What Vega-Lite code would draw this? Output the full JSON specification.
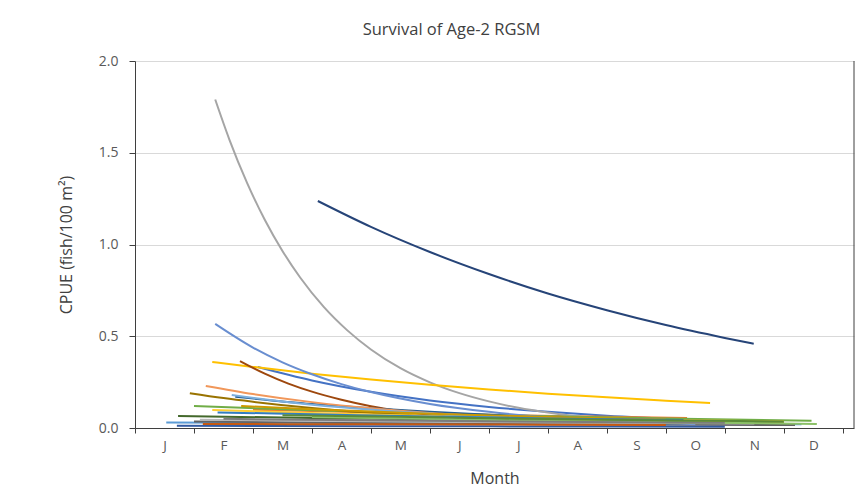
{
  "$schema": "https://vega.github.io/schema/vega-lite/v6.json",
  "width": 719,
  "height": 367,
  "autosize": {"type": "none"},
  "padding": {"left": 135, "top": 61, "right": 7, "bottom": 67},
  "background": "white",
  "config": {"view": {"stroke": null}, "font": "Open Sans"},
  "title": {
    "text": "Survival of Age-2 RGSM",
    "fontSize": 16.5,
    "fontWeight": "normal",
    "color": "#404040",
    "anchor": "middle",
    "dx": -43,
    "offset": 16
  },
  "data": {
    "values": [
      {"s": "S1", "m": 2.08, "v": 0.332}, {"s": "S1", "m": 3, "v": 0.259}, {"s": "S1", "m": 4, "v": 0.197}, {"s": "S1", "m": 5, "v": 0.150}, {"s": "S1", "m": 6, "v": 0.115}, {"s": "S1", "m": 7, "v": 0.088}, {"s": "S1", "m": 8, "v": 0.067}, {"s": "S1", "m": 9.4, "v": 0.046},
      {"s": "S2", "m": 2, "v": 0.10}, {"s": "S2", "m": 4, "v": 0.085}, {"s": "S2", "m": 6, "v": 0.072}, {"s": "S2", "m": 8, "v": 0.061}, {"s": "S2", "m": 9.36, "v": 0.055},
      {"s": "S3", "m": 1.36, "v": 1.79}, {"s": "S3", "m": 1.6, "v": 1.572}, {"s": "S3", "m": 1.9, "v": 1.336}, {"s": "S3", "m": 2.2, "v": 1.135}, {"s": "S3", "m": 2.5, "v": 0.965}, {"s": "S3", "m": 2.8, "v": 0.820}, {"s": "S3", "m": 3.2, "v": 0.660}, {"s": "S3", "m": 3.6, "v": 0.532}, {"s": "S3", "m": 4.0, "v": 0.428}, {"s": "S3", "m": 4.5, "v": 0.326}, {"s": "S3", "m": 5.0, "v": 0.249}, {"s": "S3", "m": 5.5, "v": 0.190}, {"s": "S3", "m": 6.0, "v": 0.145}, {"s": "S3", "m": 6.5, "v": 0.110}, {"s": "S3", "m": 7.0, "v": 0.084}, {"s": "S3", "m": 7.5, "v": 0.064}, {"s": "S3", "m": 8.0, "v": 0.049}, {"s": "S3", "m": 8.5, "v": 0.037},
      {"s": "S4", "m": 1.31, "v": 0.36}, {"s": "S4", "m": 2, "v": 0.333}, {"s": "S4", "m": 3, "v": 0.296}, {"s": "S4", "m": 4, "v": 0.264}, {"s": "S4", "m": 5, "v": 0.236}, {"s": "S4", "m": 6, "v": 0.210}, {"s": "S4", "m": 7, "v": 0.187}, {"s": "S4", "m": 8, "v": 0.167}, {"s": "S4", "m": 9, "v": 0.149}, {"s": "S4", "m": 9.75, "v": 0.136},
      {"s": "S5", "m": 0.53, "v": 0.03}, {"s": "S5", "m": 3, "v": 0.028}, {"s": "S5", "m": 6, "v": 0.025}, {"s": "S5", "m": 9, "v": 0.022}, {"s": "S5", "m": 11.3, "v": 0.02},
      {"s": "S6", "m": 1.0, "v": 0.12}, {"s": "S6", "m": 3, "v": 0.097}, {"s": "S6", "m": 5, "v": 0.079}, {"s": "S6", "m": 7, "v": 0.064}, {"s": "S6", "m": 9, "v": 0.052}, {"s": "S6", "m": 11.47, "v": 0.04},
      {"s": "S7", "m": 3.1, "v": 1.237}, {"s": "S7", "m": 4, "v": 1.096}, {"s": "S7", "m": 5, "v": 0.959}, {"s": "S7", "m": 6, "v": 0.839}, {"s": "S7", "m": 7, "v": 0.733}, {"s": "S7", "m": 8, "v": 0.642}, {"s": "S7", "m": 9, "v": 0.561}, {"s": "S7", "m": 10, "v": 0.491}, {"s": "S7", "m": 10.49, "v": 0.459},
      {"s": "S8", "m": 1.78, "v": 0.365}, {"s": "S8", "m": 2.2, "v": 0.296}, {"s": "S8", "m": 2.6, "v": 0.242}, {"s": "S8", "m": 3, "v": 0.198}, {"s": "S8", "m": 3.5, "v": 0.154}, {"s": "S8", "m": 4, "v": 0.119}, {"s": "S8", "m": 4.5, "v": 0.093}, {"s": "S8", "m": 5, "v": 0.072}, {"s": "S8", "m": 5.5, "v": 0.056},
      {"s": "S9", "m": 1.0, "v": 0.035}, {"s": "S9", "m": 4, "v": 0.027}, {"s": "S9", "m": 7, "v": 0.021}, {"s": "S9", "m": 11.19, "v": 0.016},
      {"s": "S10", "m": 0.93, "v": 0.19}, {"s": "S10", "m": 1.5, "v": 0.163}, {"s": "S10", "m": 2, "v": 0.143}, {"s": "S10", "m": 3, "v": 0.109}, {"s": "S10", "m": 4, "v": 0.083}, {"s": "S10", "m": 5, "v": 0.064}, {"s": "S10", "m": 6, "v": 0.049}, {"s": "S10", "m": 7, "v": 0.037}, {"s": "S10", "m": 8, "v": 0.029},
      {"s": "S11", "m": 1.7, "v": 0.17}, {"s": "S11", "m": 3, "v": 0.131}, {"s": "S11", "m": 4, "v": 0.107}, {"s": "S11", "m": 5, "v": 0.088}, {"s": "S11", "m": 6, "v": 0.072}, {"s": "S11", "m": 7, "v": 0.059}, {"s": "S11", "m": 8, "v": 0.048}, {"s": "S11", "m": 9.5, "v": 0.036},
      {"s": "S12", "m": 0.73, "v": 0.065}, {"s": "S12", "m": 3, "v": 0.055}, {"s": "S12", "m": 6, "v": 0.044}, {"s": "S12", "m": 9, "v": 0.035}, {"s": "S12", "m": 11, "v": 0.030},
      {"s": "S13", "m": 1.36, "v": 0.567}, {"s": "S13", "m": 2, "v": 0.438}, {"s": "S13", "m": 2.5, "v": 0.358}, {"s": "S13", "m": 3, "v": 0.293}, {"s": "S13", "m": 3.5, "v": 0.239}, {"s": "S13", "m": 4, "v": 0.196}, {"s": "S13", "m": 5, "v": 0.131}, {"s": "S13", "m": 6, "v": 0.088}, {"s": "S13", "m": 7, "v": 0.058}, {"s": "S13", "m": 8, "v": 0.039}, {"s": "S13", "m": 9.5, "v": 0.021},
      {"s": "S14", "m": 1.2, "v": 0.229}, {"s": "S14", "m": 2, "v": 0.185}, {"s": "S14", "m": 3, "v": 0.141}, {"s": "S14", "m": 4, "v": 0.108}, {"s": "S14", "m": 5, "v": 0.082}, {"s": "S14", "m": 6, "v": 0.063}, {"s": "S14", "m": 7, "v": 0.048}, {"s": "S14", "m": 8, "v": 0.036}, {"s": "S14", "m": 9, "v": 0.028},
      {"s": "S15", "m": 1.1, "v": 0.045}, {"s": "S15", "m": 4, "v": 0.037}, {"s": "S15", "m": 7, "v": 0.030}, {"s": "S15", "m": 10.5, "v": 0.024},
      {"s": "S16", "m": 1.31, "v": 0.098}, {"s": "S16", "m": 3, "v": 0.082}, {"s": "S16", "m": 5, "v": 0.066}, {"s": "S16", "m": 7, "v": 0.053}, {"s": "S16", "m": 9, "v": 0.043}, {"s": "S16", "m": 11, "v": 0.035},
      {"s": "S17", "m": 1.64, "v": 0.18}, {"s": "S17", "m": 2.5, "v": 0.145}, {"s": "S17", "m": 3.5, "v": 0.113}, {"s": "S17", "m": 4.5, "v": 0.088}, {"s": "S17", "m": 5.5, "v": 0.069}, {"s": "S17", "m": 7, "v": 0.047},
      {"s": "S18", "m": 3, "v": 0.06}, {"s": "S18", "m": 5, "v": 0.049}, {"s": "S18", "m": 7, "v": 0.040}, {"s": "S18", "m": 9, "v": 0.032}, {"s": "S18", "m": 11.56, "v": 0.022},
      {"s": "S19", "m": 0.71, "v": 0.012}, {"s": "S19", "m": 4, "v": 0.010}, {"s": "S19", "m": 8, "v": 0.008}, {"s": "S19", "m": 10, "v": 0.007},
      {"s": "S20", "m": 1.15, "v": 0.022}, {"s": "S20", "m": 4, "v": 0.020}, {"s": "S20", "m": 7, "v": 0.018}, {"s": "S20", "m": 9, "v": 0.017},
      {"s": "S21", "m": 1.5, "v": 0.05}, {"s": "S21", "m": 4, "v": 0.042}, {"s": "S21", "m": 7, "v": 0.034}, {"s": "S21", "m": 10, "v": 0.028},
      {"s": "S22", "m": 1.8, "v": 0.12}, {"s": "S22", "m": 3, "v": 0.102}, {"s": "S22", "m": 5, "v": 0.078}, {"s": "S22", "m": 7, "v": 0.060}, {"s": "S22", "m": 9, "v": 0.046},
      {"s": "S23", "m": 1.4, "v": 0.085}, {"s": "S23", "m": 3, "v": 0.075}, {"s": "S23", "m": 5, "v": 0.062}, {"s": "S23", "m": 7, "v": 0.052}, {"s": "S23", "m": 9.3, "v": 0.043},
      {"s": "S24", "m": 2.5, "v": 0.07}, {"s": "S24", "m": 5, "v": 0.058}, {"s": "S24", "m": 8, "v": 0.045}, {"s": "S24", "m": 11, "v": 0.035}
    ]
  },
  "layer": [
    {
      "mark": {"type": "line", "strokeWidth": 2, "interpolate": "monotone", "clip": true},
      "encoding": {
        "x": {
          "field": "m",
          "type": "quantitative",
          "scale": {"domain": [0, 12.19], "nice": false, "zero": false},
          "axis": {
            "values": [0, 1, 2, 3, 4, 5, 6, 7, 8, 9, 10, 11, 12],
            "labelExpr": "['J','F','M','A','M','J','J','A','S','O','N','D',''][datum.value]",
            "labelOffset": 29.5,
            "labelFlush": false,
            "labelOverlap": false,
            "grid": false,
            "domainColor": "#3f3f3f",
            "tickColor": "#3f3f3f",
            "tickSize": 5,
            "labelColor": "#595959",
            "labelFontSize": 13.5,
            "labelPadding": 5,
            "title": "Month",
            "titleFontSize": 16,
            "titleFontWeight": "normal",
            "titleColor": "#404040",
            "titlePadding": 19
          }
        },
        "y": {
          "field": "v",
          "type": "quantitative",
          "scale": {"domain": [0, 2], "nice": false},
          "axis": {
            "values": [0, 0.5, 1, 1.5, 2],
            "format": ".1f",
            "grid": true,
            "gridColor": "#d9d9d9",
            "domainColor": "#3f3f3f",
            "tickColor": "#3f3f3f",
            "tickSize": 6,
            "labelPadding": 11,
            "labelColor": "#595959",
            "labelFontSize": 14,
            "title": "CPUE (fish/100 m²)",
            "titleFontSize": 16,
            "titleFontWeight": "normal",
            "titleColor": "#404040",
            "titleX": -69,
            "titleY": 183.5,
            "titleBaseline": "middle"
          }
        },
        "color": {
          "field": "s",
          "type": "nominal",
          "scale": {
            "domain": ["S1", "S2", "S3", "S4", "S5", "S6", "S7", "S8", "S9", "S10", "S11", "S12", "S13", "S14", "S15", "S16", "S17", "S18", "S19", "S20", "S21", "S22", "S23", "S24"],
            "range": ["#4472C4", "#ED7D31", "#A5A5A5", "#FFC000", "#5B9BD5", "#70AD47", "#264478", "#9E480E", "#636363", "#997300", "#255E91", "#43682B", "#698ED0", "#F1975A", "#B7B7B7", "#FFCD33", "#7CAFDD", "#8CC168", "#335AA1", "#C65911", "#7C7C7C", "#CC9A00", "#327DC2", "#5A8A39"]
          },
          "legend": null
        }
      }
    },
    {
      "data": {"values": [{}]},
      "mark": {"type": "rule", "color": "#3f3f3f", "strokeWidth": 1},
      "encoding": {"x": {"datum": 12.19}, "y": {"datum": 0}, "y2": {"datum": 2}}
    }
  ]
}
